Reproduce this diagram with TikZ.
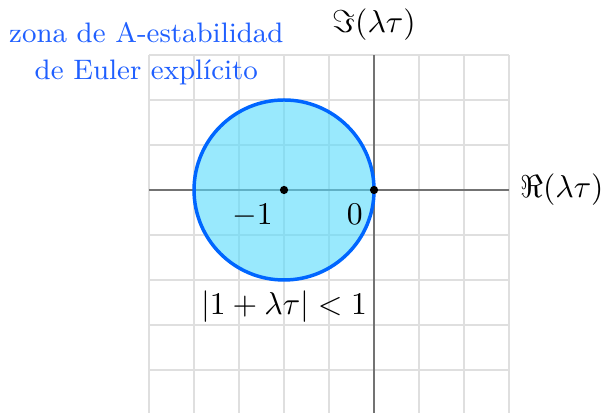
\documentclass[tikz,border=0pt]{standalone}
\usepackage{xcolor}
\usepackage{tikz}
\usetikzlibrary{positioning}
\definecolor{zoneblue}{HTML}{1F5FFF}
\definecolor{zonefill}{HTML}{55DAFC}
\definecolor{edgeblue}{HTML}{0066FF}
\begin{document}
\begin{tikzpicture}[every node/.style={font=\normalsize},
      gridline/.style={gray!25,line width=.4pt},
      axis/.style={black!55,line width=.8pt},
      region/.style={draw=edgeblue,line width=1.1pt,fill=zonefill,fill opacity=.6},
      pointdot/.style={circle,fill=black,inner sep=0pt,minimum size=2.6pt},
      zonetext/.style={align=center,text=zoneblue,font=\fontsize{8.9pt}{11.7pt}\selectfont}]
      \useasboundingbox (-4.156,-2.467) rectangle (2.544,2.111);
      \draw[gridline] (-2.5,-2.5) grid[step=.5] (1.5,1.5);
      \coordinate (xmin) at (-2.5,0); \coordinate (xmax) at (1.5,0);
      \coordinate (ymin) at (0,-2.5); \coordinate (ymax) at (0,1.5);
      \draw[axis] (xmin)--(xmax);
      \draw[axis] (ymin)--(ymax);
      \node[right=0pt of xmax] (relabel) {$\Re(\lambda\tau)$};
      \node[above=1pt of ymax] (imlabel) {$\Im(\lambda\tau)$};
      \draw[region] (-1,0) circle (1);
      \node[pointdot] (center) at (-1,0) {};
      \node[pointdot] (origin) at (0,0) {};
      \node[below left=0pt and -1pt of center] (minusone) {$-1$};
      \node[below left=0pt and -1pt of origin] (zero) {$0$};
      \coordinate (bottom) at (-1,-1);
      \node[below=0pt of bottom] (cond) {$|1+\lambda\tau|<1$};
      \node[zonetext] (zone) at (-2.53,1.52) {zona de A-estabilidad\\de Euler explícito};
    \end{tikzpicture}
\end{document}
